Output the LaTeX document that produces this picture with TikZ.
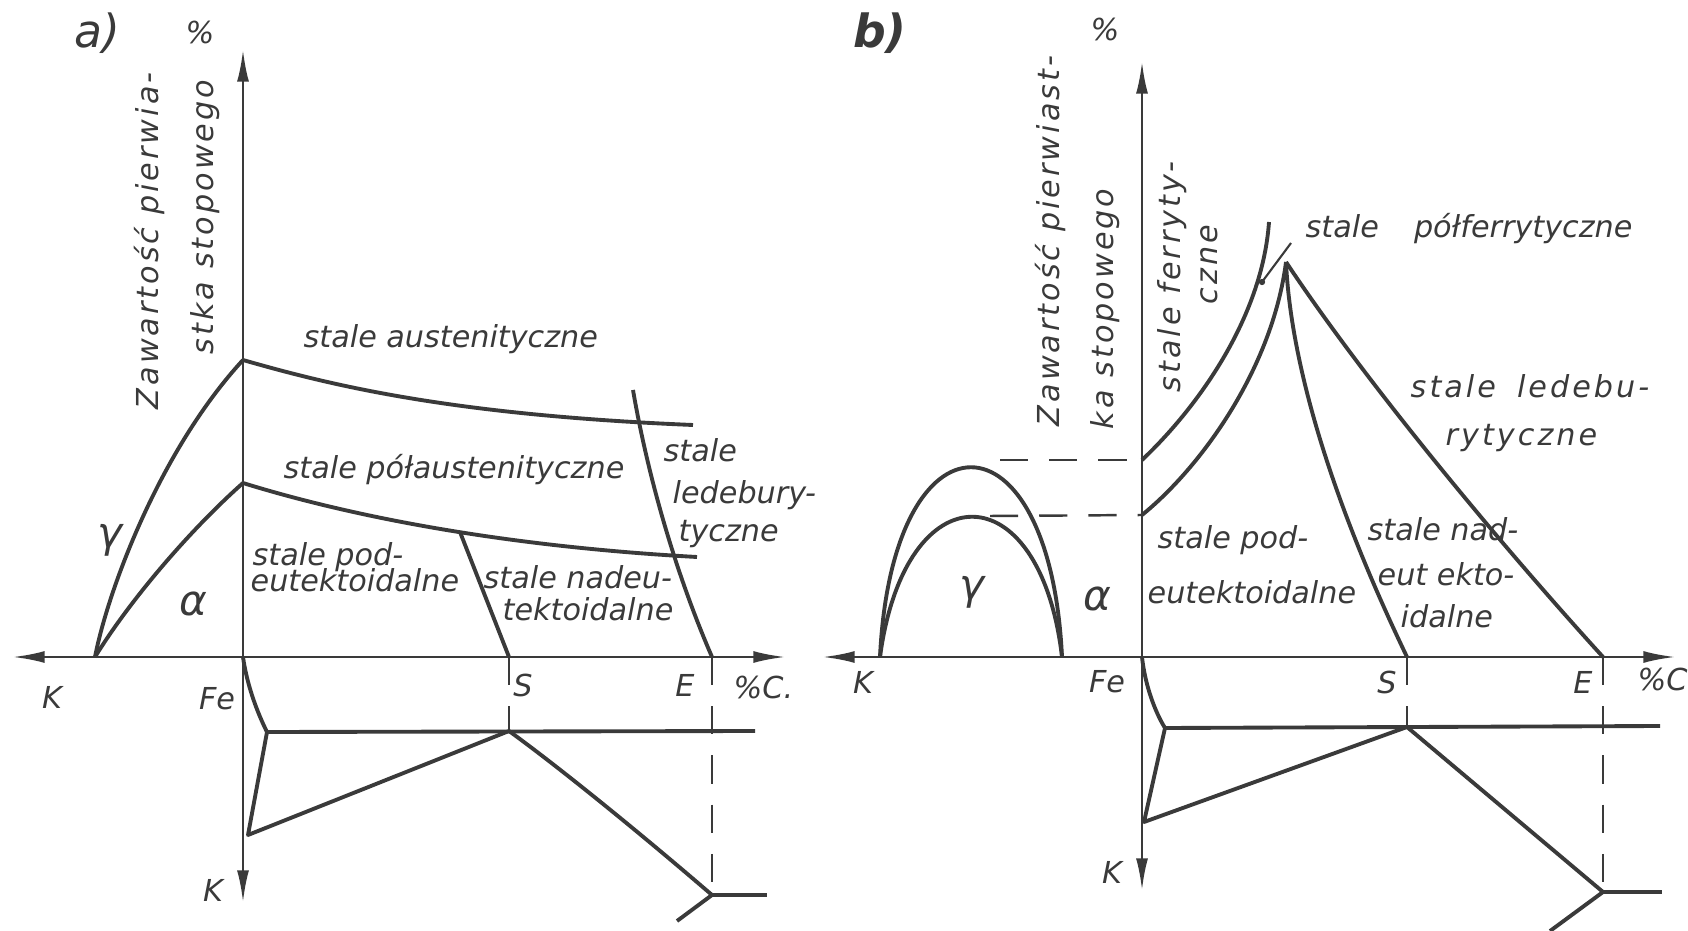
\documentclass[tikz,border=0pt]{standalone}
\usepackage{fontspec}
\setmainfont{DejaVu Sans}
\newfontfamily\widefont[LetterSpace=10]{DejaVu Sans}
\usetikzlibrary{arrows.meta}
\definecolor{ink}{RGB}{58,58,58}

\begin{document}
\begin{tikzpicture}[x=0.01cm,y=-0.01cm,
  axis/.style={ink,line width=0.7pt,-{Latex[length=9pt,width=3.4pt]}},
  phase/.style={ink,line width=1.1pt,line join=round},
  guide/.style={ink,line width=0.7pt,dash pattern=on 8pt off 6pt},
  txt/.style={ink,inner sep=0pt,font=\itshape\fontsize{8.6}{10}\selectfont},
  wtxt/.style={ink,inner sep=0pt,font=\widefont\itshape\fontsize{8.6}{10}\selectfont},
  greek/.style={ink,inner sep=0pt,font=\itshape\fontsize{12}{12}\selectfont},
  panel/.style={ink,inner sep=0pt,font=\itshape\fontsize{13}{13}\selectfont}]
\useasboundingbox (0,0) rectangle (1688,931);

% ---------- a) ----------
\coordinate (FeA) at (243,657);
\coordinate (KA)  at (95,657);
\coordinate (A1)  at (243,360);
\coordinate (A2)  at (243,483);
\coordinate (SA)  at (509,657);
\coordinate (EA)  at (712,657);
\coordinate (SAj) at (460,532);
\coordinate (EAt) at (633,390);
\coordinate (LA1) at (267,732);
\coordinate (LA2) at (248,835);
\coordinate (SAl) at (509,731);
\coordinate (EAl) at (712,895);

\draw[axis] (FeA) -- (243,50);
\draw[axis] (FeA) -- (13,657);
\draw[axis] (FeA) -- (785,657);
\draw[axis] (FeA) -- (243,902);

\draw[phase] (KA) .. controls (108,590) and (160,450) .. (A1);
\draw[phase] (KA) .. controls (130,600) and (190,530) .. (A2);
\draw[phase] (A1) .. controls (330,385) and (450,415) .. (693,425);
\draw[phase] (A2) .. controls (330,510) and (480,545) .. (697,557);
\draw[phase] (SAj) -- (SA);
\draw[phase] (EAt) .. controls (645,460) and (670,560) .. (EA);

% lower part
\draw[phase] (FeA) .. controls (247,685) and (257,712) .. (LA1) -- (LA2) -- (SAl)
  .. controls (560,768) and (640,833) .. (EAl);
\draw[phase] (LA1) -- (755,731);
\draw[phase] (EAl) -- (767,895);
\draw[phase] (EAl) -- (677,921);
\draw[guide] (SA) -- (SAl);
\draw[guide] (EA) -- (EAl);

\node[panel] (labA) at (97,33) {a)};
\node[txt] (pctA) at (200,33) {\%};
\node[wtxt,rotate=90,anchor=base west] (zawA1) at (158,410) {Zawartość pierwia-};
\node[wtxt,rotate=90,anchor=base west] (zawA2) at (213,355) {stka stopowego};
\node[txt,anchor=base west] (austA) at (303,348) {stale austenityczne};
\node[txt,anchor=base west] (polA) at (283,479) {stale półaustenityczne};
\node[txt,anchor=base west] (ledA1) at (663,462) {stale};
\node[txt,anchor=base west] (ledA2) at (672,504) {ledebury-};
\node[txt,anchor=base west] (ledA3) at (678,542) {tyczne};
\node[txt,anchor=base west] (podA1) at (252,566) {stale pod-};
\node[txt,anchor=base west] (podA2) at (250,592) {eutektoidalne};
\node[txt,anchor=base west] (nadA1) at (483,589) {stale nadeu-};
\node[txt,anchor=base west] (nadA2) at (502,620) {tektoidalne};
\node[greek] (gamA) at (110,540) {γ};
\node[greek] (alfA) at (193,604) {α};
\node[txt] (kA) at (52,697) {K};
\node[txt] (feA) at (217,699) {Fe};
\node[txt] (sA) at (523,685) {S};
\node[txt] (eA) at (685,685) {E};
\node[txt,anchor=west] (cA) at (733,687) {\%C.};
\node[txt] (kA2) at (213,890) {K};

% ---------- b) ----------
\coordinate (FeB)  at (1142,657);
\coordinate (KB1)  at (880,657);
\coordinate (KB2)  at (1062,657);
\coordinate (FB1)  at (1142,460);
\coordinate (FB2)  at (1142,515);
\coordinate (TopB) at (1269,222);
\coordinate (PkB)  at (1286,262);
\coordinate (SB)   at (1407,657);
\coordinate (EB)   at (1603,657);
\coordinate (LB1)  at (1165,728);
\coordinate (LB2)  at (1144,822);
\coordinate (SBl)  at (1407,727);
\coordinate (EBl)  at (1603,892);
\coordinate (ldB)  at (1291,243);
\coordinate (dotB) at (1262,282);

\draw[axis] (FeB) -- (1142,62);
\draw[axis] (FeB) -- (823,657);
\draw[axis] (FeB) -- (1675,657);
\draw[axis] (FeB) -- (1142,890);

\draw[phase] (KB1) .. controls (892,404) and (1050,404) .. (KB2);
\draw[phase] (KB1) .. controls (905,470) and (1040,470) .. (KB2);
\draw[guide] (1000,460) -- (FB1);
\draw[guide] (990,516) -- (FB2);
\draw[phase] (FB1) .. controls (1195,410) and (1262,320) .. (TopB);
\draw[phase] (FB2) .. controls (1200,468) and (1272,370) .. (PkB);
\draw[phase] (PkB) .. controls (1290,350) and (1322,480) .. (SB);
\draw[phase] (PkB) .. controls (1367,384) and (1501,545) .. (EB);
\draw[ink,line width=0.6pt] (ldB) -- (dotB);
\fill[ink] (dotB) circle (0.9pt);

% lower part
\draw[phase] (FeB) .. controls (1145,685) and (1155,712) .. (LB1) -- (LB2) -- (SBl) -- (EBl);
\draw[phase] (LB1) -- (1660,726);
\draw[phase] (EBl) -- (1662,892);
\draw[phase] (EBl) -- (1550,931);
\draw[guide] (SB) -- (SBl);
\draw[guide] (EB) -- (EBl);

\node[panel,font=\itshape\bfseries\fontsize{13}{13}\selectfont] (labB) at (880,33) {b)};
\node[txt] (pctB) at (1105,30) {\%};
\node[wtxt,rotate=90,anchor=base west] (zawB1) at (1059,427) {Zawartość pierwiast-};
\node[wtxt,rotate=90,anchor=base west] (zawB2) at (1113,430) {ka stopowego};
\node[wtxt,rotate=90,anchor=base west] (ferB1) at (1180,393) {stale ferryty-};
\node[wtxt,rotate=90,anchor=base west] (ferB2) at (1217,305) {czne};
\node[txt,anchor=base west] (pfB) at (1305,238) {stale\hspace{10pt}półferrytyczne};
\node[wtxt,anchor=base west] (ledB1) at (1410,398) {stale\hspace{6pt}ledebu-};
\node[wtxt,anchor=base west] (ledB2) at (1445,446) {rytyczne};
\node[txt,anchor=base west] (podB1) at (1157,549) {stale pod-};
\node[txt,anchor=base west] (podB2) at (1147,604) {eutektoidalne};
\node[txt,anchor=base west] (nadB1) at (1367,541) {stale nad-};
\node[txt,anchor=base west] (nadB2) at (1377,586) {eut ekto-};
\node[txt,anchor=base west] (nadB3) at (1400,628) {idalne};
\node[greek] (gamB) at (972,592) {γ};
\node[greek] (alfB) at (1097,599) {α};
\node[txt] (kB) at (863,682) {K};
\node[txt] (feB) at (1107,682) {Fe};
\node[txt] (sB) at (1387,682) {S};
\node[txt] (eB) at (1583,682) {E};
\node[txt,anchor=west] (cB) at (1637,679) {\%C};
\node[txt] (kB2) at (1112,872) {K};
\end{tikzpicture}
\end{document}
